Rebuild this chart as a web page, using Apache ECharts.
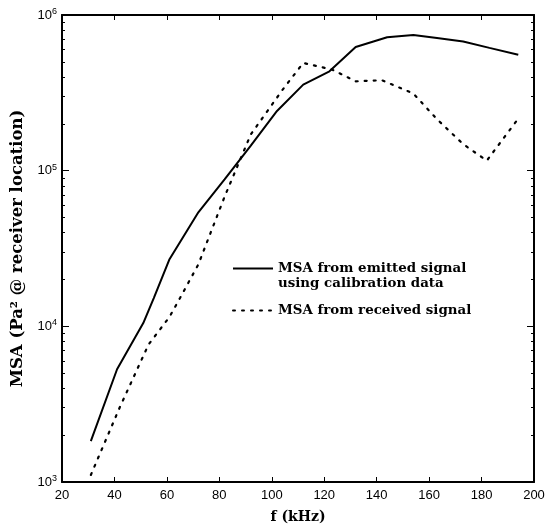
<!DOCTYPE html>
<html><head><meta charset="utf-8">
<script src="https://cdn.jsdelivr.net/npm/echarts@6/dist/echarts.min.js"></script>
<style>html,body{margin:0;padding:0;background:#fff}#c{width:556px;height:529px}</style>
</head><body><div id="c"></div>
<script>
// Frequencies (kHz)
const freqEmitted = [31, 41, 51, 55, 61, 72, 82, 92, 102, 112, 122, 132, 144, 154, 163, 173, 183, 194];
const msaEmitted  = [1830, 5300, 10500, 15200, 27000, 54000, 88000, 145000, 242000, 357000, 435000, 623000, 720000, 745000, 712000, 676000, 615000, 556000];
const freqReceived = [31, 42, 53, 61, 65, 72, 82, 92, 104, 112, 123, 132, 142, 154, 163, 173, 182, 194];
const msaReceived  = [1110, 3010, 7640, 11500, 15200, 25000, 68000, 171000, 329000, 492000, 446000, 375000, 381000, 313000, 214000, 148000, 116000, 216000];
const xTicks = [20, 40, 60, 80, 100, 120, 140, 160, 180, 200];
const seriesNames = ['MSA from emitted signal\nusing calibration data', 'MSA from received signal'];

const pair = (xs, ys) => xs.map((x, i) => [x, ys[i]]);
const serif = 'DejaVu Serif';
const sans = 'Liberation Sans';

const chart = echarts.init(document.getElementById('c'));
const axisLine = {show: true, lineStyle: {color: '#000', width: 2}};
chart.setOption({
  animation: false,
  backgroundColor: '#fff',
  grid: {left: 62, right: 22, top: 15, bottom: 44},
  legend: {
    orient: 'vertical', left: 232, top: 246, padding: 0, itemWidth: 40, itemHeight: 14, itemGap: 12,
    itemStyle: {opacity: 0},
    formatter: name => name.indexOf('\n') >= 0 ? '\n' + name : name,
    textStyle: {fontFamily: serif, fontWeight: 'bold', fontSize: 13.4, color: '#000', lineHeight: 15},
    data: seriesNames
  },
  xAxis: [{
    type: 'value', min: 20, max: 200, interval: 20,
    axisLine: axisLine,
    axisTick: {inside: true, length: 5, lineStyle: {color: '#000', width: 1}},
    splitLine: {show: false},
    axisLabel: {color: '#000', fontFamily: sans, fontSize: 13, margin: 7,
      formatter: v => xTicks.includes(v) ? String(v) : ''},
    name: 'f (kHz)', nameLocation: 'middle', nameGap: 28,
    nameTextStyle: {fontFamily: serif, fontWeight: 'bold', fontSize: 14, color: '#000'}
  }, {
    type: 'value', position: 'top', min: 20, max: 200, interval: 20,
    axisLine: axisLine,
    axisTick: {inside: true, length: 5, lineStyle: {color: '#000', width: 1}},
    axisLabel: {show: false}, splitLine: {show: false}
  }],
  yAxis: [{
    type: 'log', min: 1000, max: 1000000, logBase: 10,
    axisLine: axisLine,
    axisTick: {inside: true, length: 7, lineStyle: {color: '#000', width: 1}},
    minorTick: {show: true, splitNumber: 9, length: 3, lineStyle: {color: '#000', width: 1}},
    splitLine: {show: false},
    axisLabel: {margin: 5,
      formatter: v => '{b|10}{s|' + Math.round(Math.log10(v)) + '}',
      rich: {b: {fontFamily: sans, fontSize: 13, color: '#000'},
             s: {fontFamily: sans, fontSize: 9, color: '#000', verticalAlign: 'top', padding: [0, 0, 7, 0]}}},
    name: 'MSA (Pa² @ receiver location)', nameLocation: 'middle', nameGap: 33, nameRotate: 90,
    nameTextStyle: {fontFamily: serif, fontWeight: 'bold', fontSize: 16.5, color: '#000'}
  }, {
    type: 'log', min: 1000, max: 1000000, logBase: 10, position: 'right',
    axisLine: axisLine,
    axisTick: {inside: true, length: 7, lineStyle: {color: '#000', width: 1}},
    minorTick: {show: true, splitNumber: 9, length: 3, lineStyle: {color: '#000', width: 1}},
    axisLabel: {show: false}, splitLine: {show: false}
  }],
  series: [{
    name: seriesNames[0], type: 'line', data: pair(freqEmitted, msaEmitted),
    showSymbol: false, symbol: 'none', color: '#000',
    lineStyle: {color: '#000', width: 2}
  }, {
    name: seriesNames[1], type: 'line', data: pair(freqReceived, msaReceived),
    showSymbol: false, symbol: 'none', color: '#000',
    lineStyle: {color: '#000', width: 2.2, type: [2, 7], cap: 'round'}
  }]
});
</script></body></html>
